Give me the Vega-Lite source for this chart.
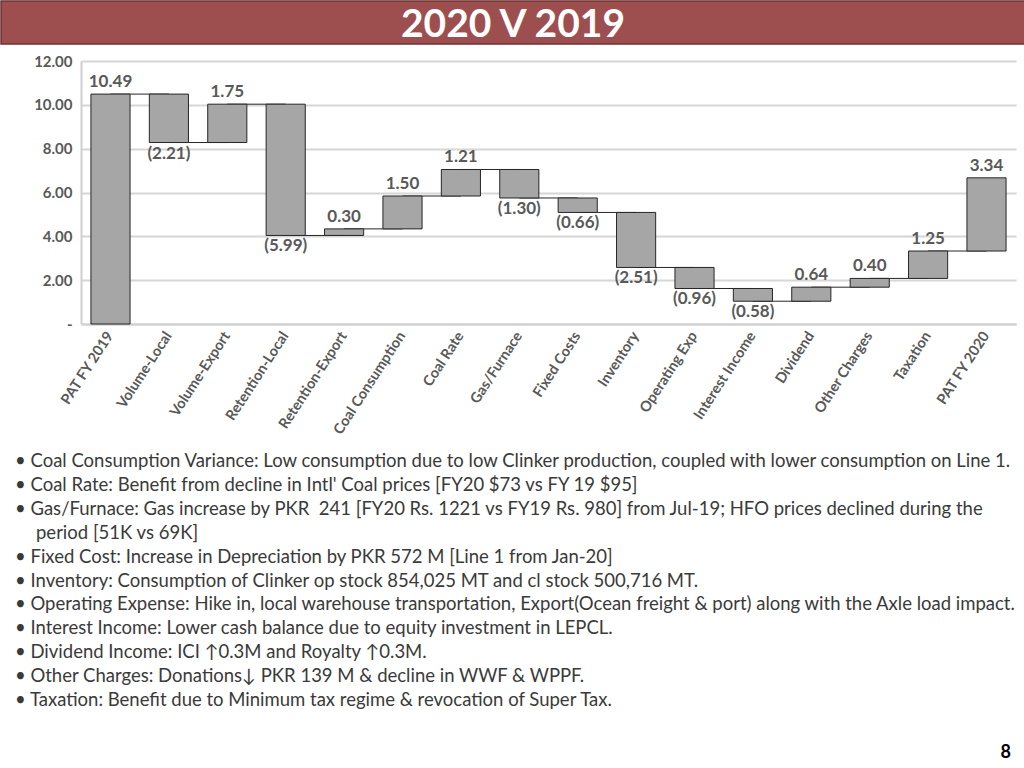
{
  "$schema": "https://vega.github.io/schema/vega-lite/v6.json",
  "padding": 0,
  "background": "white",
  "spacing": 9,
  "config": {"view": {"stroke": null}, "font": "Lato"},
  "vconcat": [
    {
      "width": 864,
      "height": 43,
      "data": {"values": [{"title": "2020 V 2019"}]},
      "layer": [
        {
          "mark": {"type": "rect", "fill": "#9D4F50", "stroke": "#6E3233", "strokeWidth": 1.5},
          "encoding": {
            "x": {"datum": 0, "type": "quantitative", "scale": {"domain": [0, 1], "range": [-80, 944], "nice": false, "zero": false}, "axis": null},
            "x2": {"datum": 1},
            "y": {"datum": 0, "type": "quantitative", "scale": {"domain": [0, 1], "range": [0, 43], "nice": false, "zero": false}, "axis": null},
            "y2": {"datum": 1}
          }
        },
        {
          "mark": {"type": "text", "font": "Lato", "fontWeight": "bold", "fontSize": 39, "color": "#FFFFFF", "align": "center", "baseline": "middle", "dy": 2},
          "encoding": {
            "x": {"datum": 0.5, "type": "quantitative"},
            "y": {"datum": 0.5, "type": "quantitative"},
            "text": {"field": "title", "type": "nominal"}
          }
        }
      ]
    },
    {
      "width": 935,
      "height": 263,
      "data": {"values": [
        {"cat": "PAT FY 2019", "value": 10.49, "start": 0, "end": 10.49, "next": "Volume-Local"},
        {"cat": "Volume-Local", "value": -2.21, "start": 10.49, "end": 8.28, "next": "Volume-Export"},
        {"cat": "Volume-Export", "value": 1.75, "start": 8.28, "end": 10.03, "next": "Retention-Local"},
        {"cat": "Retention-Local", "value": -5.99, "start": 10.03, "end": 4.04, "next": "Retention-Export"},
        {"cat": "Retention-Export", "value": 0.30, "start": 4.04, "end": 4.34, "next": "Coal Consumption"},
        {"cat": "Coal Consumption", "value": 1.50, "start": 4.34, "end": 5.84, "next": "Coal Rate"},
        {"cat": "Coal Rate", "value": 1.21, "start": 5.84, "end": 7.05, "next": "Gas/Furnace"},
        {"cat": "Gas/Furnace", "value": -1.30, "start": 7.05, "end": 5.75, "next": "Fixed Costs"},
        {"cat": "Fixed Costs", "value": -0.66, "start": 5.75, "end": 5.09, "next": "Inventory"},
        {"cat": "Inventory", "value": -2.51, "start": 5.09, "end": 2.58, "next": "Operating Exp"},
        {"cat": "Operating Exp", "value": -0.96, "start": 2.58, "end": 1.62, "next": "Interest Income"},
        {"cat": "Interest Income", "value": -0.58, "start": 1.62, "end": 1.04, "next": "Dividend"},
        {"cat": "Dividend", "value": 0.64, "start": 1.04, "end": 1.68, "next": "Other Charges"},
        {"cat": "Other Charges", "value": 0.40, "start": 1.68, "end": 2.08, "next": "Taxation"},
        {"cat": "Taxation", "value": 1.25, "start": 2.08, "end": 3.33, "next": "PAT FY 2020"},
        {"cat": "PAT FY 2020", "value": 3.34, "start": 3.33, "end": 6.67, "next": null}
      ]},
      "encoding": {
        "x": {
          "field": "cat", "type": "nominal", "sort": null,
          "scale": {
            "domain": ["PAT FY 2019", "Volume-Local", "Volume-Export", "Retention-Local", "Retention-Export", "Coal Consumption", "Coal Rate", "Gas/Furnace", "Fixed Costs", "Inventory", "Operating Exp", "Interest Income", "Dividend", "Other Charges", "Taxation", "PAT FY 2020"],
            "paddingInner": 0.33, "paddingOuter": 0.17
          },
          "axis": {
            "title": null, "labelAngle": -57, "labelFont": "Lato", "labelFontWeight": "bold",
            "labelFontSize": 14.5, "labelColor": "#595959", "ticks": false,
            "domainColor": "#D0D0D0", "domainWidth": 2, "labelPadding": 9,
            "minExtent": 118, "maxExtent": 118
          }
        },
        "y": {
          "field": "end", "type": "quantitative",
          "scale": {"domain": [0, 12], "nice": false, "zero": true},
          "axis": {
            "title": null, "values": [0, 2, 4, 6, 8, 10, 12],
            "labelExpr": "datum.value == 0 ? '-' : format(datum.value, '.2f')",
            "labelFont": "Lato", "labelFontWeight": "bold", "labelFontSize": 15,
            "labelColor": "#595959", "ticks": false, "labelPadding": 9,
            "gridColor": "#D6D6D6", "gridWidth": 2,
            "domainColor": "#D0D0D0", "domainWidth": 2,
            "minExtent": 80, "maxExtent": 80
          }
        }
      },
      "layer": [
        {
          "transform": [{"filter": "datum.next != null"}],
          "mark": {"type": "rule", "color": "#262626", "strokeWidth": 1},
          "encoding": {"x2": {"field": "next"}}
        },
        {
          "mark": {"type": "bar", "fill": "#A6A6A6", "stroke": "#262626", "strokeWidth": 1},
          "encoding": {"y2": {"field": "start"}}
        },
        {
          "transform": [{"filter": "datum.value >= 0"}],
          "mark": {"type": "text", "baseline": "bottom", "dy": -3, "font": "Lato", "fontWeight": "bold", "fontSize": 17, "color": "#595959"},
          "encoding": {"text": {"field": "value", "type": "quantitative", "format": "(.2f"}}
        },
        {
          "transform": [{"filter": "datum.value < 0"}],
          "mark": {"type": "text", "baseline": "top", "dy": 3, "font": "Lato", "fontWeight": "bold", "fontSize": 17, "color": "#595959"},
          "encoding": {"text": {"field": "value", "type": "quantitative", "format": "(.2f"}}
        }
      ]
    },
    {
      "width": 864,
      "height": 313,
      "data": {"values": [
        {"line": 0, "col": 0, "cont": false, "txt": "•\u00a0Coal Consumption Variance: Low consumption due to low Clinker production, coupled with lower consumption on Line 1."},
        {"line": 1, "col": 0, "cont": false, "txt": "•\u00a0Coal Rate: Benefit from decline in Intl' Coal prices [FY20 $73 vs FY 19 $95]"},
        {"line": 2, "col": 0, "cont": false, "txt": "•\u00a0Gas/Furnace: Gas increase by PKR\u00a0\u00a0241 [FY20 Rs. 1221 vs FY19 Rs. 980] from Jul-19; HFO prices declined during the"},
        {"line": 3, "col": 0, "cont": true, "txt": "period [51K vs 69K]"},
        {"line": 4, "col": 0, "cont": false, "txt": "•\u00a0Fixed Cost: Increase in Depreciation by PKR 572 M [Line 1 from Jan-20]"},
        {"line": 5, "col": 0, "cont": false, "txt": "•\u00a0Inventory: Consumption of Clinker op stock 854,025 MT and cl stock 500,716 MT."},
        {"line": 6, "col": 0, "cont": false, "txt": "•\u00a0Operating Expense: Hike in, local warehouse transportation, Export(Ocean freight & port) along with the Axle load impact."},
        {"line": 7, "col": 0, "cont": false, "txt": "•\u00a0Interest Income: Lower cash balance due to equity investment in LEPCL."},
        {"line": 8, "col": 0, "cont": false, "txt": "•\u00a0Dividend Income: ICI ↑0.3M and Royalty ↑0.3M."},
        {"line": 9, "col": 0, "cont": false, "txt": "•\u00a0Other Charges: Donations↓ PKR 139 M & decline in WWF & WPPF."},
        {"line": 10, "col": 0, "cont": false, "txt": "•\u00a0Taxation: Benefit due to Minimum tax regime & revocation of Super Tax."},
        {"line": 12.2, "col": 1, "cont": false, "txt": "8"}
      ]},
      "encoding": {
        "x": {"field": "col", "type": "quantitative", "scale": {"domain": [0, 1], "range": [-66, 930], "zero": false, "nice": false}, "axis": null},
        "y": {"field": "line", "type": "quantitative", "scale": {"domain": [-0.42, 12.68], "reverse": true, "nice": false, "zero": false}, "axis": null},
        "text": {"field": "txt", "type": "nominal"}
      },
      "layer": [
        {
          "transform": [{"filter": "datum.col == 0 && !datum.cont"}],
          "mark": {"type": "text", "align": "left", "baseline": "middle", "font": "Lato", "fontSize": 18.5, "color": "#3A3A3A"}
        },
        {
          "transform": [{"filter": "datum.cont"}],
          "mark": {"type": "text", "align": "left", "baseline": "middle", "dx": 21, "font": "Lato", "fontSize": 18.5, "color": "#3A3A3A"}
        },
        {
          "transform": [{"filter": "datum.col == 1"}],
          "mark": {"type": "text", "align": "right", "baseline": "middle", "font": "Lato", "fontWeight": "bold", "fontSize": 18, "color": "#000000"}
        }
      ]
    }
  ]
}
